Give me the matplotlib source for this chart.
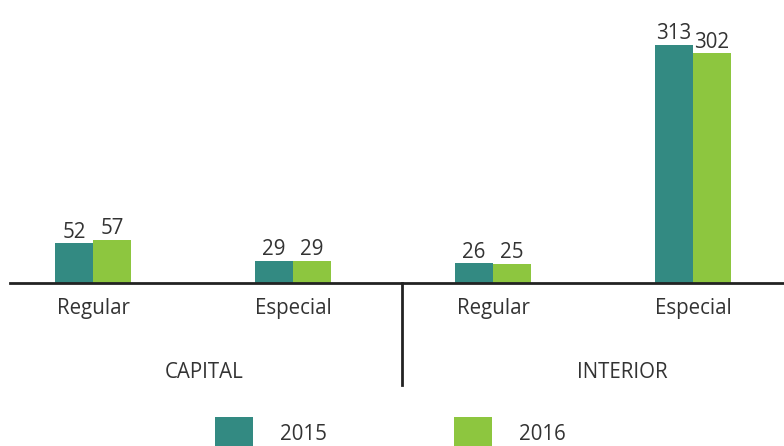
import numpy as np
import matplotlib
matplotlib.use("Agg")
import matplotlib.pyplot as plt

groups = ["CAPITAL", "INTERIOR"]
categories = ["Regular", "Especial", "Regular", "Especial"]
years = ["2015", "2016"]
values_2015 = [52, 29, 26, 313]
values_2016 = [57, 29, 25, 302]

teal = "#338A82"
green = "#8DC63F"
txt = "#333333"

plt.rcParams['font.family'] = ['Open Sans', 'DejaVu Sans']
fs = 14.8

fig = plt.figure(figsize=(7.84, 4.46), dpi=100)
ax = fig.add_axes([0, 163 / 446, 1, 283 / 446])

x = np.arange(len(categories))
w = 0.19
b1 = ax.bar(x - w / 2, values_2015, w, color=teal, label=years[0])
b2 = ax.bar(x + w / 2, values_2016, w, color=green, label=years[1])
ax.bar_label(b1, padding=0.5, fontsize=fs, color=txt)
ax.bar_label(b2, padding=0.5, fontsize=fs, color=txt)

ax.set_xlim(-0.465, 3.455)
ax.set_ylim(0, 372)
for s in ax.spines.values():
    s.set_visible(False)
ax.set_xticks([])
ax.set_yticks([])
ax.axhline(0, xmin=10 / 784, xmax=1, color="#222222", lw=2, clip_on=False)

for xi, c in zip(x, categories):
    ax.text(xi, -33, c, ha="center", va="center", fontsize=fs, color=txt, clip_on=False)

ax.plot([1.545, 1.545], [0, -134], color="#222222", lw=2, clip_on=False)
ax.text(0.555, -118, groups[0], ha="center", va="center", fontsize=fs, color=txt, clip_on=False)
ax.text(2.645, -118, groups[1], ha="center", va="center", fontsize=fs, color=txt, clip_on=False)

fig.legend(loc="lower center", bbox_to_anchor=(0.498, -0.03), ncol=2, frameon=False,
           fontsize=fs, handlelength=1.85, handleheight=2.0, handletextpad=1.3,
           columnspacing=6.2, borderpad=0, labelcolor=txt)

fig.savefig("out.png", dpi=100)
